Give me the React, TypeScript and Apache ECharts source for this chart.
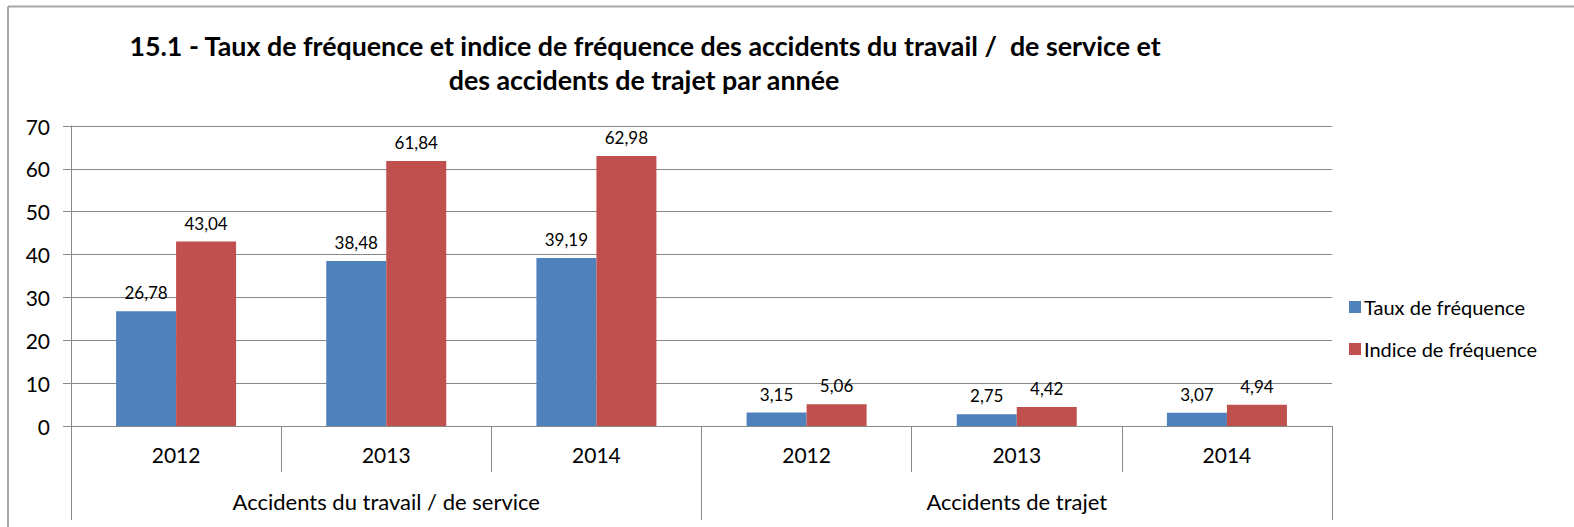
import React, { useEffect, useRef } from "react";
import * as echarts from "echarts";

const years = ["2012", "2013", "2014", "2012", "2013", "2014"];
const groups = ["Accidents du travail / de service", "Accidents de trajet"];
const tauxFrequence = [26.78, 38.48, 39.19, 3.15, 2.75, 3.07];
const indiceFrequence = [43.04, 61.84, 62.98, 5.06, 4.42, 4.94];
const seriesNames = ["Taux de fréquence", "Indice de fréquence"];
const titleLines = [
  "15.1 - Taux de fréquence et indice de fréquence des accidents du travail /  de service et",
  "des accidents de trajet par année",
];

const FONT = "Lato, 'Open Sans', sans-serif";
const GRAY = "#888888";

export default function App() {
  const ref = useRef<HTMLDivElement>(null);
  useEffect(() => {
    if (!ref.current) return;
    const chart = echarts.init(ref.current, undefined, { renderer: "svg" });
    const fmt = (p: any) => String(p.value).replace(".", ",");
    chart.setOption({
      animation: false,
      textStyle: { fontFamily: FONT },
      graphic: [
        { type: "line", shape: { x1: 8, y1: 6.5, x2: 1574, y2: 6.5 }, style: { stroke: "#a6a6a6", lineWidth: 2 } },
        { type: "line", shape: { x1: 8, y1: 6.5, x2: 8, y2: 527 }, style: { stroke: "#a6a6a6", lineWidth: 2 } },
        {
          type: "text",
          x: 645,
          y: 46,
          style: {
            text: titleLines[0],
            fontFamily: FONT,
            fontWeight: "bold",
            fontSize: 26.8,
            fill: "#000",
            textAlign: "center",
            textVerticalAlign: "middle",
          },
        },
        {
          type: "text",
          x: 644,
          y: 80,
          style: {
            text: titleLines[1],
            fontFamily: FONT,
            fontWeight: "bold",
            fontSize: 26.8,
            fill: "#000",
            textAlign: "center",
            textVerticalAlign: "middle",
          },
        },
      ],
      legend: {
        orient: "vertical",
        left: 1344,
        top: 292,
        icon: "rect",
        itemWidth: 12,
        itemHeight: 12,
        itemGap: 22,
        textStyle: { fontFamily: FONT, fontSize: 20, color: "#000", lineHeight: 20, padding: [0, 0, 0, -2] },
        data: seriesNames,
      },
      grid: { left: 71, right: 242, top: 126, bottom: 101, containLabel: false },
      xAxis: [
        {
          type: "category",
          data: years,
          position: "bottom",
          axisLine: { show: true, lineStyle: { color: GRAY, width: 1 } },
          axisTick: { show: true, interval: 0, length: 46, lineStyle: { color: GRAY } },
          axisLabel: { interval: 0, fontSize: 21, color: "#000", margin: 18, fontFamily: FONT },
        },
        {
          type: "category",
          data: groups,
          position: "bottom",
          axisLine: { show: false },
          axisTick: { show: true, interval: 0, length: 94, lineStyle: { color: GRAY } },
          axisLabel: { interval: 0, fontSize: 22, color: "#000", margin: 64, fontFamily: FONT },
        },
      ],
      yAxis: {
        type: "value",
        min: 0,
        max: 70,
        interval: 10,
        axisLine: { show: true, lineStyle: { color: GRAY } },
        axisTick: { show: true, length: 8, lineStyle: { color: GRAY } },
        splitLine: { show: true, lineStyle: { color: GRAY, width: 1 } },
        axisLabel: { fontSize: 21, color: "#000", margin: 21, fontFamily: FONT },
      },
      series: [
        {
          name: seriesNames[0],
          type: "bar",
          xAxisIndex: 0,
          data: tauxFrequence,
          barWidth: 60,
          barGap: "0%",
          itemStyle: { color: "#4F81BD" },
          label: { show: true, position: "top", distance: 10, fontSize: 17, color: "#000", fontFamily: FONT, formatter: fmt },
        },
        {
          name: seriesNames[1],
          type: "bar",
          xAxisIndex: 0,
          data: indiceFrequence,
          barWidth: 60,
          barGap: "0%",
          itemStyle: { color: "#C0504D" },
          label: { show: true, position: "top", distance: 10, fontSize: 17, color: "#000", fontFamily: FONT, formatter: fmt },
        },
      ],
    });
    return () => chart.dispose();
  }, []);
  return (
    <div
      ref={ref}
      style={{ position: "absolute", left: 0, top: 0, width: 1574, height: 527, background: "#fff" }}
    />
  );
}
